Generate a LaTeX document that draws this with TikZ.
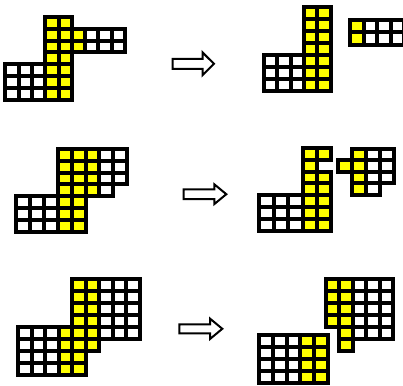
\documentclass[tikz,border=0pt]{standalone}
\definecolor{cellyellow}{RGB}{255,255,0}
\tikzset{
  cell/.style={draw=black, line width=4pt},
  arrowshape/.style={draw=black, fill=white, line width=2pt, line join=miter},
}
\newcommand\blk[5]{\foreach \i in {#1,...,#2}{\foreach \j in {#3,...,#4}{\filldraw[cell,fill=#5] (\i,\j) rectangle ++(1,1);}}}
\newcommand\barrow[6]{\draw[arrowshape] (#1,#4-#5) -- (#2,#4-#5) -- (#2,#4-#6) -- (#3,#4) -- (#2,#4+#6) -- (#2,#4+#5) -- (#1,#4+#5) -- cycle;}
\begin{document}
\begin{tikzpicture}[x=1pt,y=-1pt]
\useasboundingbox (0,0) rectangle (403,385);
\clip (0,0) rectangle (403,385);
% ---- row 1 ----
\begin{scope}[shift={(5.3,17)}, x=13.3pt, y=-11.8pt]
\blk{3}{4}{0}{6}{cellyellow}
\blk{5}{5}{1}{2}{cellyellow}
\blk{6}{8}{1}{2}{white}
\blk{0}{2}{4}{6}{white}
\end{scope}
\begin{scope}[shift={(263.7,7)}, x=13.4pt, y=-12pt]
\blk{3}{4}{0}{6}{cellyellow}
\blk{0}{2}{4}{6}{white}
\end{scope}
\begin{scope}[shift={(350.3,20.3)}, x=13.4pt, y=-12.2pt]
\blk{0}{0}{0}{1}{cellyellow}
\blk{1}{3}{0}{1}{white}
\end{scope}
% ---- row 2 ----
\begin{scope}[shift={(16,148.7)}, x=13.9pt, y=-11.9pt]
\blk{3}{5}{0}{3}{cellyellow}
\blk{6}{7}{0}{2}{white}
\blk{6}{6}{3}{3}{white}
\blk{0}{2}{4}{6}{white}
\blk{3}{4}{4}{6}{cellyellow}
\end{scope}
\begin{scope}[shift={(259.3,148)}, x=14.4pt, y=-11.8pt]
\blk{3}{3}{0}{6}{cellyellow}
\blk{4}{4}{0}{0}{cellyellow}
\blk{4}{4}{2}{6}{cellyellow}
\blk{0}{2}{4}{6}{white}
\end{scope}
\begin{scope}[shift={(338,148.7)}, x=14pt, y=-11.5pt]
\blk{0}{0}{1}{1}{cellyellow}
\blk{1}{1}{0}{3}{cellyellow}
\blk{2}{2}{0}{3}{white}
\blk{3}{3}{0}{2}{white}
\end{scope}
% ---- row 3 ----
\begin{scope}[shift={(18,278.7)}, x=13.5pt, y=-12pt]
\blk{4}{5}{0}{3}{cellyellow}
\blk{6}{8}{0}{4}{white}
\blk{3}{5}{4}{5}{cellyellow}
\blk{0}{2}{4}{7}{white}
\blk{3}{4}{6}{7}{cellyellow}
\end{scope}
\begin{scope}[shift={(326,278.7)}, x=13.4pt, y=-12.1pt]
\blk{0}{1}{0}{3}{cellyellow}
\blk{2}{4}{0}{4}{white}
\blk{1}{1}{4}{5}{cellyellow}
\end{scope}
\begin{scope}[shift={(259.3,335.3)}, x=13.7pt, y=-11.9pt]
\blk{0}{2}{0}{3}{white}
\blk{3}{4}{0}{3}{cellyellow}
\end{scope}
% ---- arrows ----
\barrow{172.7}{202.5}{214}{63.8}{5}{11.4}
\barrow{183.7}{214.3}{226.3}{194.2}{4.9}{9.9}
\barrow{179.3}{210}{222.3}{328.8}{4.5}{10.2}
\end{tikzpicture}
\end{document}
